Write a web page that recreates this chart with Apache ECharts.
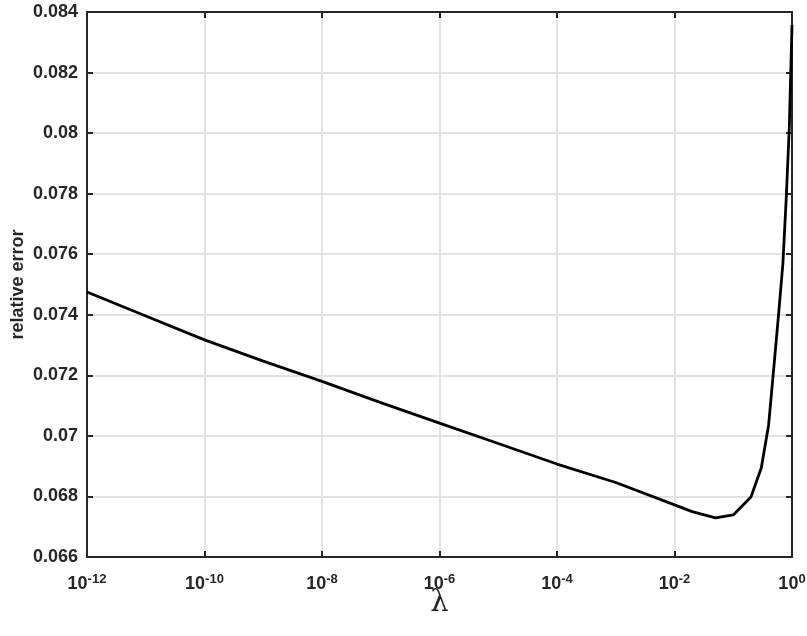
<!DOCTYPE html>
<html>
<head>
<meta charset="utf-8">
<script src="https://cdn.jsdelivr.net/npm/echarts@6/dist/echarts.min.js"></script>
<style>html,body{margin:0;padding:0;background:#fff}#c{width:807px;height:636px}</style>
</head>
<body>
<div id="c"></div>
<script>
const lambdas = [1e-12,1e-11,1e-10,1e-9,1e-8,1e-7,1e-6,1e-5,1e-4,1e-3,1e-2,0.02,0.05,0.1,0.2,0.3,0.4,0.5,0.6,0.7,0.8,0.9,1.0];
const errors  = [0.07475,0.07396,0.07317,0.07247,0.07180,0.07110,0.07042,0.06975,0.06907,0.06846,0.06772,0.06750,0.06729,0.06739,0.06798,0.06894,0.07036,0.07244,0.07416,0.07570,0.07790,0.08020,0.08357];
const yTicks = {min: 0.066, max: 0.084, step: 0.002};
const xTicks = {minExp: -12, maxExp: 0, stepExp: 2};
const xName = 'λ';
const yName = 'relative error';

const FONT = 'Liberation Sans';
const AX = '#262626';
const GRID = '#e2e2e2';
const chart = echarts.init(document.getElementById('c'), null, {renderer: 'canvas'});
const xBase = {
  type: 'log', logBase: 10,
  min: Math.pow(10, xTicks.minExp), max: Math.pow(10, xTicks.maxExp),
  interval: xTicks.stepExp,
  axisLine: {show: true, onZero: false, lineStyle: {color: AX, width: 2}},
  axisTick: {show: true, inside: true, length: 6, lineStyle: {color: AX, width: 2}},
  minorTick: {show: false}
};
const yBase = {
  type: 'value', min: yTicks.min, max: yTicks.max, interval: yTicks.step,
  axisLine: {show: true, onZero: false, lineStyle: {color: AX, width: 2}},
  axisTick: {show: true, inside: true, length: 6, lineStyle: {color: AX, width: 2}}
};
chart.setOption({
  animation: false,
  backgroundColor: '#fff',
  grid: {left: 87, right: 15, top: 12, bottom: 79, containLabel: false, outerBoundsMode: 'none'},
  xAxis: [
    Object.assign({}, xBase, {
      position: 'bottom',
      name: xName, nameLocation: 'middle', nameGap: 46, nameMoveOverlap: false,
      nameTextStyle: {fontFamily: 'DejaVu Serif', fontSize: 29, color: AX, verticalAlign: 'middle'},
      splitLine: {show: true, lineStyle: {color: GRID, width: 2}},
      axisLabel: {
        show: true, margin: 16,
        showMinLabel: true, showMaxLabel: true,
        formatter: function (v) {
          const e = Math.round(Math.log10(v));
          return '{b|10}{s|' + e + '}';
        },
        rich: {
          b: {fontFamily: FONT, fontWeight: 'bold', fontSize: 18, color: AX},
          s: {fontFamily: FONT, fontWeight: 'bold', fontSize: 13, color: AX, padding: [0, 0, 9, 0]}
        }
      }
    }),
    Object.assign({}, xBase, {
      position: 'top', axisLabel: {show: false}, splitLine: {show: false}
    })
  ],
  yAxis: [
    Object.assign({}, yBase, {
      position: 'left',
      name: yName, nameLocation: 'middle', nameGap: 60, nameRotate: 90, nameMoveOverlap: false,
      nameTextStyle: {fontFamily: FONT, fontWeight: 'bold', fontSize: 18, color: AX},
      splitLine: {show: true, lineStyle: {color: GRID, width: 2}},
      axisLabel: {
        show: true, margin: 9,
        fontFamily: FONT, fontWeight: 'bold', fontSize: 18, color: AX,
        formatter: function (v) { return String(parseFloat(v.toFixed(3))); }
      }
    }),
    Object.assign({}, yBase, {
      position: 'right', axisLabel: {show: false}, splitLine: {show: false}
    })
  ],
  series: [{
    type: 'line',
    xAxisIndex: 0, yAxisIndex: 0,
    data: lambdas.map((x, i) => [x, errors[i]]),
    showSymbol: false, symbol: 'none',
    lineStyle: {color: '#000', width: 2.8},
    clip: true
  }]
});
</script>
</body>
</html>
